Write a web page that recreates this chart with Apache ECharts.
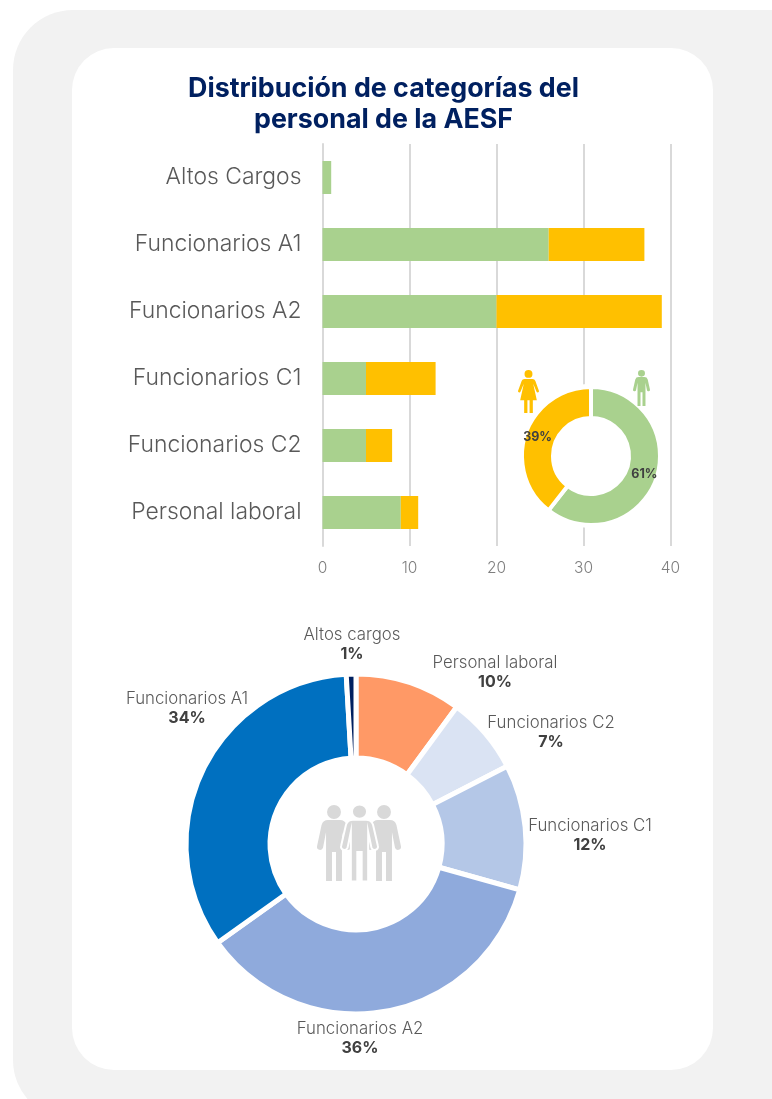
<!DOCTYPE html>
<html><head><meta charset="utf-8">
<style>html,body{margin:0;padding:0;background:#fff}#c{width:772px;height:1099px}</style>
<script src="https://cdn.jsdelivr.net/npm/echarts@6/dist/echarts.min.js"></script>
</head><body><div id="c"></div>
<script>
const titleText = 'Distribución de categorías del\npersonal de la AESF';
const barCategories = ['Altos Cargos','Funcionarios A1','Funcionarios A2','Funcionarios C1','Funcionarios C2','Personal laboral'];
const menValues = [1,26,20,5,5,9];
const womenValues = [0,11,19,8,3,2];
const genderNames = ['Hombres','Mujeres'];
const genderValues = [66,43];
const pieNames = ['Personal laboral','Funcionarios C2','Funcionarios C1','Funcionarios A2','Funcionarios A1','Altos cargos'];
const pieValues = [11,8,13,39,37,1];
const pieColors = ['#FF9966','#DAE3F3','#B4C7E7','#8FAADC','#0070C0','#002060'];
const labelCentres = {'Personal laboral':[495,672],'Funcionarios C2':[551,732],'Funcionarios C1':[590,835],'Funcionarios A2':[360,1038],'Funcionarios A1':[187,708],'Altos cargos':[352,644]};

const FONT = 'Inter, "Open Sans", sans-serif';
const MAN = 'M10 7a7 7 0 1 0 14 0a7 7 0 1 0 -14 0ZM11 15H23Q28 15 29.5 20L34 41a3 3 0 0 1 -6 1.5L25 27V76H19V47H15V76H9V27L6 42.5a3 3 0 0 1 -6 -1.5L4.5 20Q6 15 11 15Z';
const WOMAN = 'M14 7a5.5 5.5 0 1 0 11 0a5.5 5.5 0 1 0 -11 0ZM14 14H25Q28 14 29 17L34 31a1.8 1.8 0 0 1 -3.4 1L26 21L31 44H25.5V62H21V44H18V62H13.5V44H8L13 21L8.4 32a1.8 1.8 0 0 1 -3.4 -1L10 17Q11 14 14 14Z';
const icons = [
  [WOMAN,518,370,21,43,'#FFC000',null],
  [MAN,633,370,17,36,'#A9D18E',null],
  [MAN,317,805,34,76,'#D9D9D9',null],
  [MAN,367,805,34,76,'#D9D9D9',null],
  [MAN,341,804.5,37,77,'#D9D9D9','#FFFFFF']
];

const chart = echarts.init(document.getElementById('c'),null,{renderer:'canvas'});
chart.setOption({
  animation:false,
  textStyle:{fontFamily:FONT},
  title:{text:titleText,left:378.5,top:68,textAlign:'center',textStyle:{fontFamily:FONT,fontSize:26.8,fontWeight:700,color:'#002060',lineHeight:31}},
  grid:{left:322.5,width:348,top:144,height:402,containLabel:false},
  xAxis:{type:'value',min:0,max:40,interval:10,axisLine:{show:false},axisTick:{show:false},
    splitLine:{lineStyle:{color:'#D9D9D9',width:2}},
    axisLabel:{fontSize:15.5,color:'#7F7F7F',margin:14,fontFamily:FONT,fontWeight:300}},
  yAxis:{type:'category',inverse:true,data:barCategories,axisTick:{show:false},
    axisLine:{lineStyle:{color:'#D9D9D9',width:2}},
    axisLabel:{fontSize:22.9,color:'#595959',margin:21,fontFamily:FONT,fontWeight:300}},
  graphic:{elements:[
    {type:'rect',z:-10,shape:{x:13,y:10,width:820,height:1110,r:60},style:{fill:'#F2F2F2'}},
    {type:'rect',z:-9,shape:{x:72,y:48,width:641,height:1022,r:42},style:{fill:'#FFFFFF'}}
  ]},
  series:[
    {type:'bar',name:'Hombres',stack:'s',data:menValues,barWidth:33,itemStyle:{color:'#A9D18E'},silent:true},
    {type:'bar',name:'Mujeres',stack:'s',data:womenValues,barWidth:33,itemStyle:{color:'#FFC000'},silent:true},
    {type:'pie',silent:true,center:[591,456],radius:[0,72],z:5,startAngle:90,data:[{value:1,itemStyle:{color:'#FFFFFF'}}],label:{show:false},labelLine:{show:false}},
    {type:'pie',silent:true,center:[591,456],radius:[38,69],z:6,startAngle:90,percentPrecision:0,
      data:genderNames.map((n,i)=>({name:n,value:genderValues[i],itemStyle:{color:['#A9D18E','#FFC000'][i]}})),
      itemStyle:{borderColor:'#fff',borderWidth:4},
      label:{show:true,position:'inside',formatter:'{d}%',fontSize:12.5,fontWeight:700,color:'#404040',fontFamily:FONT},labelLine:{show:false}},
    {type:'pie',silent:true,center:[356,844],radius:[86,170],z:6,startAngle:90,percentPrecision:0,
      data:pieNames.map((n,i)=>({name:n,value:pieValues[i],itemStyle:{color:pieColors[i]}})),
      itemStyle:{borderColor:'#fff',borderWidth:5},
      label:{show:true,position:'outside',formatter:p=>'{n|'+p.name+'}\n{v|'+p.percent+'%}',
        rich:{n:{fontSize:16.8,fontWeight:300,color:'#595959',lineHeight:20,fontFamily:FONT,align:'center'},v:{fontSize:16,fontWeight:700,color:'#404040',lineHeight:19,fontFamily:FONT,align:'center'}}},
      labelLine:{show:false},
      labelLayout:p=>{const c=labelCentres[pieNames[p.dataIndex]];return {x:c[0],y:c[1],align:'center',verticalAlign:'middle'};}},
    {type:'custom',coordinateSystem:'none',silent:true,z:8,data:icons.map((d,i)=>i),clip:false,
      renderItem:(params)=>{const d=icons[params.dataIndex];return {type:'path',shape:{pathData:d[0],layout:'cover',x:d[1],y:d[2],width:d[3],height:d[4]},style:{fill:d[5],stroke:d[6],lineWidth:d[6]?2:0}};}}
  ]
});
</script></body></html>
